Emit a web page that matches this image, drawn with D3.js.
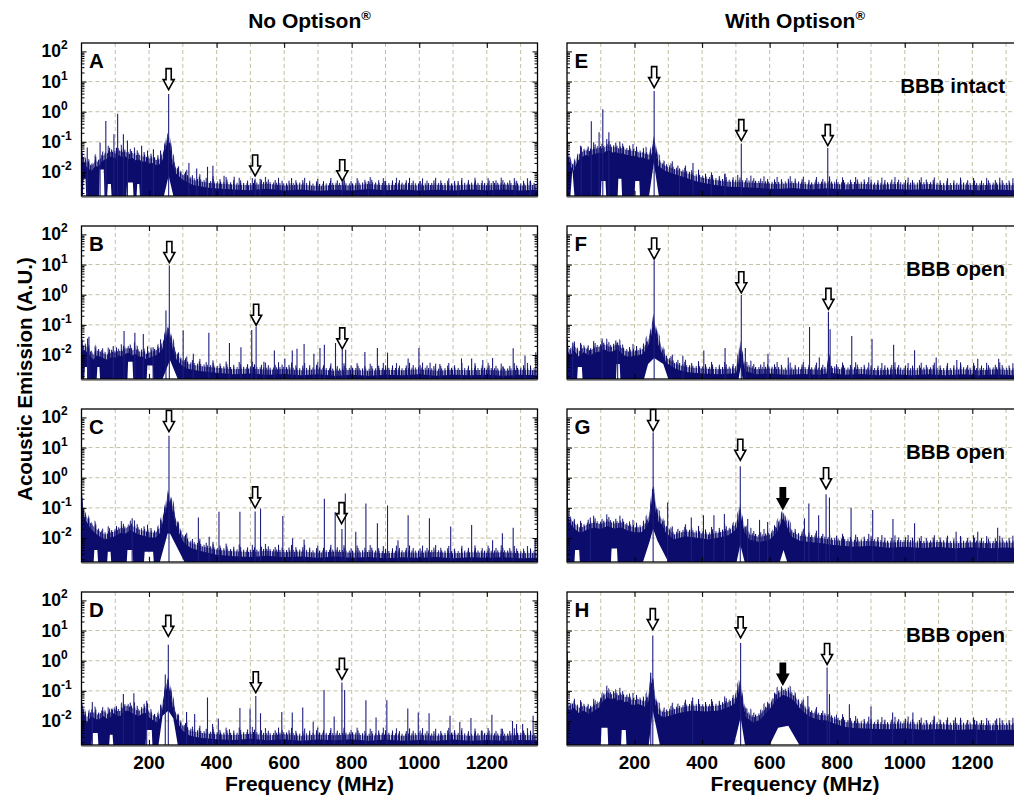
<!DOCTYPE html>
<html>
<head>
<meta charset="utf-8">
<script src="https://cdn.jsdelivr.net/npm/d3@7"></script>
<style>
  body { margin: 0; background: #fff; }
  svg text { font-family: "Liberation Sans", Arial, sans-serif; font-weight: bold; fill: #000; }
</style>
</head>
<body>
<div id="chart"></div>
<script>
'use strict';

// axis limits (A.U. and MHz)
const yMin = 0.0016, yMax = 190;
const fMax = 1350;
const freqTicks = [200, 400, 600, 800, 1000, 1200];
const gridFreqs = [100, 200, 300, 400, 500, 600, 700, 800, 900, 1000, 1100, 1200, 1300];
const decades = [0.01, 0.1, 1, 10, 100];
const gridDecades = [0.01, 0.1, 1, 10];
const decadeLabels = ['-2', '-1', '0', '1', '2'];

const panelLetters = ['A', 'B', 'C', 'D', 'E', 'F', 'G', 'H'];
const panelNotes = ['', '', '', '', 'BBB intact', 'BBB open', 'BBB open', 'BBB open'];
const columnTitles = ['No Optison', 'With Optison'];

// upper edge of the dense noise trace [MHz, A.U.]
const topA = [[0,0.025],[8,0.03],[15,0.02],[30,0.015],[42,0.022],[50,0.02],[60,0.03],[70,0.035],[80,0.04],[90,0.045],[100,0.038],[110,0.05],[120,0.042],[130,0.045],[140,0.036],[150,0.04],[160,0.033],[170,0.035],[180,0.03],[190,0.03],[200,0.026],[210,0.027],[220,0.023],[230,0.024],[240,0.035],[248,0.075],[255,0.16],[262,0.12],[270,0.024],[280,0.012],[300,0.0075],[330,0.005],[380,0.004],[450,0.0036],[500,0.0034],[550,0.0038],[600,0.0033],[650,0.0036],[700,0.0032],[750,0.0035],[800,0.0033],[850,0.0037],[900,0.0034],[950,0.0036],[1000,0.0033],[1050,0.0035],[1100,0.0033],[1150,0.0036],[1200,0.0034],[1250,0.0036],[1300,0.0033],[1350,0.0035]];
const topB = [[0,0.018],[10,0.02],[20,0.015],[35,0.0095],[45,0.013],[55,0.012],[70,0.01],[80,0.0095],[90,0.012],[100,0.011],[110,0.013],[120,0.012],[130,0.015],[140,0.016],[150,0.013],[160,0.015],[170,0.012],[180,0.012],[190,0.01],[200,0.011],[210,0.012],[220,0.013],[230,0.016],[238,0.02],[245,0.034],[252,0.059],[258,0.075],[265,0.034],[272,0.018],[282,0.0095],[296,0.0063],[311,0.0048],[350,0.004],[400,0.0035],[450,0.0031],[500,0.0033],[550,0.003],[600,0.0032],[650,0.0029],[700,0.0031],[750,0.0028],[800,0.003],[850,0.0028],[900,0.003],[950,0.0029],[1000,0.0031],[1050,0.0028],[1100,0.003],[1150,0.0029],[1200,0.003],[1250,0.0028],[1300,0.003],[1350,0.0029]];
const topC = [[0,0.3],[3,0.12],[8,0.07],[14,0.05],[25,0.03],[40,0.02],[55,0.015],[70,0.012],[85,0.014],[100,0.0155],[115,0.02],[130,0.019],[145,0.025],[160,0.02],[175,0.017],[190,0.0155],[205,0.014],[220,0.014],[232,0.02],[242,0.055],[250,0.12],[256,0.32],[262,0.2],[272,0.09],[278,0.043],[288,0.021],[304,0.0093],[324,0.0063],[356,0.0049],[400,0.0038],[450,0.0034],[500,0.0032],[550,0.0035],[600,0.0031],[650,0.0033],[700,0.003],[750,0.0033],[800,0.003],[850,0.0032],[900,0.0029],[950,0.0031],[1000,0.003],[1050,0.0032],[1100,0.0029],[1150,0.0031],[1200,0.003],[1250,0.0031],[1300,0.0029],[1350,0.003]];
const topD = [[0,0.02],[8,0.025],[15,0.012],[30,0.02],[40,0.016],[50,0.015],[65,0.02],[80,0.015],[95,0.025],[105,0.02],[115,0.02],[125,0.028],[135,0.03],[150,0.025],[160,0.022],[170,0.02],[180,0.024],[190,0.025],[200,0.018],[210,0.015],[225,0.012],[235,0.02],[242,0.05],[250,0.14],[257,0.24],[263,0.12],[270,0.04],[277,0.02],[290,0.0094],[300,0.0065],[320,0.0045],[350,0.0038],[400,0.0034],[450,0.0032],[500,0.0035],[550,0.0031],[600,0.0034],[650,0.003],[700,0.0033],[750,0.0031],[800,0.0034],[850,0.003],[900,0.0033],[950,0.003],[1000,0.0032],[1050,0.003],[1100,0.0033],[1150,0.003],[1200,0.0032],[1250,0.003],[1300,0.0032],[1350,0.0031]];
const topE = [[0,0.06],[5,0.04],[12,0.02],[20,0.015],[30,0.03],[40,0.04],[55,0.05],[65,0.045],[75,0.052],[85,0.055],[95,0.06],[105,0.055],[115,0.066],[125,0.07],[135,0.06],[145,0.062],[155,0.055],[165,0.058],[175,0.05],[185,0.05],[195,0.045],[205,0.046],[215,0.04],[225,0.042],[235,0.036],[245,0.035],[252,0.06],[258,0.14],[264,0.05],[270,0.022],[290,0.015],[320,0.0115],[350,0.009],[380,0.0068],[420,0.0054],[470,0.0045],[520,0.0042],[570,0.004],[620,0.0037],[670,0.004],[720,0.0036],[770,0.0039],[820,0.0036],[870,0.0038],[920,0.0035],[970,0.0037],[1020,0.0035],[1070,0.0037],[1120,0.0034],[1170,0.0036],[1220,0.0034],[1270,0.0036],[1320,0.0034],[1350,0.0035]];
const topF = [[0,0.02],[10,0.013],[20,0.02],[35,0.012],[50,0.017],[60,0.014],[70,0.013],[80,0.016],[90,0.017],[100,0.018],[110,0.021],[120,0.018],[130,0.017],[140,0.019],[150,0.021],[160,0.016],[170,0.013],[180,0.012],[190,0.012],[200,0.013],[210,0.013],[225,0.015],[238,0.025],[248,0.05],[255,0.19],[262,0.08],[270,0.03],[280,0.017],[294,0.0075],[323,0.0047],[353,0.0037],[400,0.0033],[450,0.0031],[500,0.0034],[508,0.008],[514,0.02],[520,0.01],[528,0.004],[560,0.0031],[600,0.0033],[650,0.003],[700,0.0032],[750,0.003],[768,0.0033],[774,0.008],[780,0.0035],[820,0.003],[870,0.0032],[920,0.0029],[970,0.0031],[1020,0.0029],[1070,0.0031],[1120,0.0029],[1170,0.0031],[1220,0.0029],[1270,0.0031],[1320,0.0029],[1350,0.003]];
const topG = [[0,0.2],[2,0.09],[8,0.045],[15,0.034],[25,0.026],[40,0.02],[60,0.026],[80,0.03],[100,0.027],[120,0.034],[140,0.028],[160,0.03],[180,0.024],[200,0.021],[220,0.021],[235,0.03],[245,0.06],[252,0.4],[258,0.4],[264,0.08],[272,0.045],[280,0.04],[292,0.021],[316,0.012],[350,0.0155],[380,0.014],[420,0.012],[450,0.014],[480,0.017],[500,0.026],[508,0.05],[513,0.09],[518,0.05],[526,0.021],[540,0.012],[570,0.01],[600,0.012],[620,0.02],[630,0.035],[640,0.065],[650,0.035],[665,0.015],[690,0.011],[720,0.01],[760,0.009],[790,0.008],[850,0.007],[900,0.0075],[950,0.0065],[1000,0.007],[1050,0.0063],[1100,0.0068],[1150,0.0062],[1200,0.0067],[1250,0.0062],[1300,0.0066],[1350,0.0062]];
const topH = [[0,0.04],[10,0.03],[20,0.038],[35,0.025],[50,0.03],[65,0.023],[80,0.03],[95,0.038],[105,0.06],[120,0.085],[130,0.07],[140,0.08],[150,0.065],[160,0.07],[170,0.058],[180,0.06],[190,0.048],[200,0.045],[210,0.05],[220,0.046],[230,0.04],[240,0.06],[248,0.27],[256,0.2],[262,0.05],[270,0.023],[285,0.018],[300,0.02],[330,0.025],[370,0.03],[410,0.028],[450,0.03],[480,0.04],[495,0.05],[505,0.1],[514,0.17],[520,0.06],[530,0.0185],[550,0.012],[570,0.0145],[590,0.025],[605,0.04],[620,0.07],[640,0.1],[660,0.08],[675,0.06],[690,0.035],[705,0.025],[720,0.0185],[745,0.015],[770,0.014],[790,0.0115],[820,0.0088],[850,0.008],[900,0.0075],[950,0.0072],[1000,0.0078],[1050,0.007],[1100,0.0074],[1150,0.0068],[1200,0.0072],[1250,0.0067],[1300,0.007],[1350,0.0068]];

// lower edge where the trace stays above the axis floor [MHz, A.U.]
const lowA = [[4,yMin],[6,0.006],[12,0.006],[14,yMin],[52,yMin],[54,0.012],[66,0.012],[68,yMin],[76,yMin],[78,0.004],[87,0.004],[89,yMin],[133,yMin],[135,0.0045],[152,0.0045],[154,yMin],[163,yMin],[165,0.004],[171,0.004],[173,yMin],[244,yMin],[258,0.0075],[272,yMin]];
const lowB = [[8,yMin],[10,0.004],[16,0.004],[18,yMin],[45,yMin],[47,0.004],[53,0.004],[55,yMin],[136,yMin],[138,0.006],[151,0.006],[153,yMin],[193,yMin],[195,0.0045],[211,0.0045],[213,yMin],[240,yMin],[262,0.0068],[285,yMin]];
const lowC = [[36,yMin],[38,0.004],[47,0.004],[49,yMin],[76,yMin],[78,0.0035],[86,0.0035],[88,yMin],[134,yMin],[136,0.004],[151,0.004],[153,yMin],[185,yMin],[187,0.0035],[212,0.0035],[214,yMin],[232,yMin],[255,0.014],[262,0.014],[305,yMin]];
const lowD = [[30,yMin],[32,0.004],[48,0.004],[50,yMin],[82,yMin],[84,0.0035],[92,0.0035],[94,yMin],[190,yMin],[192,0.005],[208,0.005],[210,yMin],[228,yMin],[240,0.015],[257,0.022],[272,0.012],[285,yMin]];
const lowE = [[10,yMin],[16,0.012],[22,yMin],[100,yMin],[102,0.005],[114,0.005],[116,yMin],[150,yMin],[152,0.006],[161,0.006],[163,yMin],[200,yMin],[202,0.005],[214,0.005],[216,yMin],[243,yMin],[257,0.02],[272,yMin]];
const lowF = [[30,yMin],[32,0.004],[44,0.004],[46,yMin],[145,yMin],[147,0.005],[156,0.005],[158,yMin],[228,yMin],[240,0.005],[258,0.008],[285,0.005],[300,yMin],[508,yMin],[514,0.004],[520,yMin]];
const lowG = [[22,yMin],[24,0.004],[36,0.004],[38,yMin],[130,yMin],[132,0.0045],[148,0.0045],[150,yMin],[225,yMin],[245,0.008],[255,0.02],[268,0.008],[300,yMin],[502,yMin],[513,0.006],[526,yMin],[630,yMin],[641,0.004],[652,yMin]];
const lowH = [[100,yMin],[102,0.006],[120,0.006],[122,yMin],[160,yMin],[162,0.005],[174,0.005],[176,yMin],[242,yMin],[254,0.022],[275,yMin],[494,yMin],[514,0.013],[527,yMin],[600,yMin],[625,0.006],[655,0.007],[688,yMin]];

// narrow spectral lines [MHz, A.U.]
const spikesA = [[17,0.065],[55,0.095],[72,0.49],[96,0.18],[107,0.85],[124,0.18],[136,0.11],[178,0.074],[213,0.057],[258,3.9],[318,0.02],[341,0.013],[373,0.015],[389,0.016],[422,0.0075],[452,0.007],[514,0.006],[529,0.006],[772,0.0048],[849,0.005],[896,0.005],[1002,0.005],[1115,0.005],[1219,0.005],[1283,0.0048],[1328,0.005]];
const spikesB = [[18,0.035],[22,0.04],[94,0.02],[126,0.063],[158,0.055],[183,0.05],[212,0.018],[250,0.3],[260,9.3],[301,0.066],[331,0.011],[377,0.055],[438,0.025],[472,0.018],[504,0.068],[517,0.087],[540,0.006],[571,0.014],[602,0.0077],[624,0.014],[638,0.016],[659,0.023],[688,0.011],[706,0.017],[719,0.022],[752,0.025],[772,0.015],[782,0.015],[839,0.0125],[876,0.017],[906,0.012],[967,0.0077],[999,0.017],[1032,0.0055],[1061,0.005],[1125,0.0077],[1155,0.0077],[1188,0.0068],[1217,0.008],[1249,0.0039],[1278,0.0166],[1313,0.0095],[1345,0.0123]];
const spikesC = [[150,0.045],[259,24.5],[346,0.048],[378,0.011],[407,0.074],[469,0.074],[514,0.075],[530,0.095],[596,0.054],[625,0.0098],[659,0.009],[719,0.2],[751,0.071],[771,0.02],[781,0.3],[812,0.016],[842,0.14],[876,0.031],[906,0.12],[937,0.0085],[967,0.057],[1030,0.045],[1093,0.024],[1155,0.027],[1217,0.0085],[1246,0.0145],[1278,0.022],[1343,0.01]];
const spikesD = [[32,0.043],[124,0.078],[155,0.083],[193,0.047],[248,0.35],[257,3.4],[311,0.02],[335,0.017],[373,0.06],[388,0.008],[405,0.012],[438,0.0053],[469,0.027],[499,0.026],[516,0.068],[530,0.018],[593,0.02],[624,0.019],[655,0.028],[686,0.0095],[718,0.107],[748,0.014],[771,0.19],[779,0.107],[842,0.049],[872,0.013],[904,0.049],[966,0.026],[997,0.019],[1029,0.018],[1091,0.015],[1120,0.0093],[1153,0.0125],[1184,0.0048],[1215,0.016],[1246,0.0055],[1276,0.01],[1288,0.008],[1306,0.008],[1337,0.015]];
const spikesE = [[1,0.3],[42,0.07],[72,0.48],[95,0.21],[106,1.2],[124,0.21],[258,4.9],[333,0.013],[373,0.02],[427,0.008],[468,0.009],[516,0.089],[772,0.063]];
const spikesF = [[17,0.026],[104,0.035],[150,0.026],[258,13.5],[343,0.0095],[405,0.014],[468,0.017],[516,0.97],[528,0.017],[595,0.011],[655,0.0083],[718,0.085],[747,0.0083],[774,0.27],[779,0.072],[843,0.043],[903,0.034],[967,0.022],[1029,0.0145],[1093,0.0083],[1154,0.0068],[1216,0.0075],[1278,0.0075]];
const spikesG = [[1,3.2],[69,0.048],[255,31.7],[298,0.15],[368,0.048],[404,0.057],[435,0.057],[466,0.062],[513,2.4],[535,0.043],[570,0.04],[594,0.034],[703,0.045],[716,0.14],[745,0.057],[767,0.28],[777,0.22],[841,0.1],[905,0.085],[965,0.043],[1029,0.031],[1152,0.016],[1216,0.016],[1275,0.022]];
const spikesH = [[1,2],[248,0.4],[254,6.9],[372,0.06],[514,3.9],[713,0.068],[770,0.59],[777,0.078],[836,0.036],[900,0.03],[964,0.019],[1024,0.019],[1087,0.015],[1150,0.013],[1213,0.01],[1272,0.012]];

// arrow markers [MHz, A.U. at the tip, filled]
const arrowsA = [[258,5.4,0],[514,0.0074,0],[772,0.0051,0]];
const arrowsB = [[260,11.7,0],[517,0.097,0],[772,0.016,0]];
const arrowsC = [[259,34,0],[514,0.1,0],[770,0.03,0]];
const arrowsD = [[257,6.4,0],[516,0.087,0],[771,0.24,0]];
const arrowsE = [[258,6.3,0],[516,0.11,0],[772,0.075,0]];
const arrowsF = [[258,15.2,0],[516,1.16,0],[774,0.325,0]];
const arrowsG = [[255,36.7,0],[513,3.8,0],[639,0.093,1],[767,0.43,0]];
const arrowsH = [[254,10.7,0],[514,5.7,0],[639,0.164,1],[770,0.75,0]];

const tops = [topA, topB, topC, topD, topE, topF, topG, topH];
const lows = [lowA, lowB, lowC, lowD, lowE, lowF, lowG, lowH];
const spikes = [spikesA, spikesB, spikesC, spikesD, spikesE, spikesF, spikesG, spikesH];
const arrows = [arrowsA, arrowsB, arrowsC, arrowsD, arrowsE, arrowsF, arrowsG, arrowsH];

const width = 1014, height = 798;
const colX = [81.5, 567];
const rowY = [43, 226, 409, 592];
const panelW = 456, panelH = 153;
const navy = '#0c0c6c';
const gridColor = '#c4c0a4';
const coreDrop = 4;           // solid core sits this many px under the ragged top
// ragged top layers: [px above core, stripe period]
const fringe = [[5, 1.7], [7, 3.3], [9.5, 6.9], [12, 13.1]];

const svg = d3.select('#chart').append('svg')
    .attr('width', width)
    .attr('height', height);

const defs = svg.append('defs');
defs.append('clipPath').attr('id', 'plotClip')
    .append('rect').attr('width', panelW).attr('height', panelH);
fringe.forEach(function (f, k) {
    defs.append('pattern').attr('id', 'stripe' + k)
        .attr('patternUnits', 'userSpaceOnUse')
        .attr('width', f[1]).attr('height', 20)
        .append('rect').attr('width', 1).attr('height', 20).attr('fill', navy);
});

const x = d3.scaleLinear().domain([0, fMax]).range([0, panelW]);
const y = d3.scaleLog().domain([yMin, yMax]).range([panelH, 0]);
const minorTicks = y.ticks().filter(function (d) { return decades.indexOf(d) < 0; });

const line = d3.line();
const arrowShape = 'M0,0 L-5.5,-10 L-2.6,-10 L-2.6,-21 L2.6,-21 L2.6,-10 L5.5,-10 Z';

panelLetters.forEach(function (letter, i) {
    let col = Math.floor(i / 4);
    let row = i % 4;
    let g = svg.append('g')
        .attr('transform', 'translate(' + colX[col] + ',' + rowY[row] + ')');

    // grid
    g.selectAll('.vgrid').data(gridFreqs).enter().append('line')
        .attr('x1', d => x(d)).attr('x2', d => x(d))
        .attr('y1', 0).attr('y2', panelH)
        .attr('stroke', gridColor).attr('stroke-dasharray', '4,3');
    g.selectAll('.hgrid').data(gridDecades).enter().append('line')
        .attr('x1', 0).attr('x2', panelW)
        .attr('y1', d => y(d)).attr('y2', d => y(d))
        .attr('stroke', gridColor).attr('stroke-dasharray', '4,3');

    let plot = g.append('g').attr('clip-path', 'url(#plotClip)');

    // dense noise band: upper edge forward, lower edge back
    let lower = [[0, yMin]].concat(lows[i], [[fMax, yMin]]).reverse();
    let pts = tops[i].map(d => [x(d[0]), Math.min(panelH, y(d[1]) + coreDrop)])
        .concat(lower.map(d => [x(d[0]), y(d[1])]));
    plot.append('path')
        .attr('d', line(pts) + 'Z')
        .attr('fill', navy);

    // ragged top: striped strips above the solid core (overlapping it by 1.5 px)
    fringe.forEach(function (f, k) {
        let strip = d3.area()
            .x(d => x(d[0]))
            .y0(d => y(d[1]) + coreDrop + 1.5)
            .y1(d => y(d[1]) + coreDrop - f[0]);
        plot.append('path')
            .attr('d', strip(tops[i]))
            .attr('fill', 'url(#stripe' + k + ')');
    });

    plot.selectAll('.spike').data(spikes[i]).enter().append('line')
        .attr('x1', d => x(d[0])).attr('x2', d => x(d[0]))
        .attr('y1', panelH).attr('y2', d => y(d[1]))
        .attr('stroke', '#1e1e80').attr('stroke-width', 1.1);

    g.selectAll('.arrow').data(arrows[i]).enter().append('path')
        .attr('transform', d => 'translate(' + x(d[0]) + ',' + y(d[1]) + ')')
        .attr('d', arrowShape)
        .attr('fill', d => d[2] ? '#000' : '#fff')
        .attr('stroke', '#000')
        .attr('stroke-width', 1.6)
        .attr('stroke-linejoin', 'miter');

    // ticks on all four sides, pointing inward
    let noDomain = sel => sel.select('.domain').remove();
    g.append('g').call(d3.axisLeft(y).tickValues(decades).tickSize(-5).tickFormat('')).call(noDomain);
    g.append('g').call(d3.axisLeft(y).tickValues(minorTicks).tickSize(-3).tickFormat('')).call(noDomain);
    g.append('g').attr('transform', 'translate(' + panelW + ',0)')
        .call(d3.axisRight(y).tickValues(decades).tickSize(-5).tickFormat('')).call(noDomain);
    g.append('g').attr('transform', 'translate(' + panelW + ',0)')
        .call(d3.axisRight(y).tickValues(minorTicks).tickSize(-3).tickFormat('')).call(noDomain);
    g.append('g').attr('transform', 'translate(0,' + panelH + ')')
        .call(d3.axisBottom(x).tickValues(freqTicks).tickSize(-5).tickFormat('')).call(noDomain);
    g.append('g').call(d3.axisTop(x).tickValues(freqTicks).tickSize(-5).tickFormat('')).call(noDomain);

    g.append('rect')
        .attr('width', panelW).attr('height', panelH)
        .attr('fill', 'none').attr('stroke', '#000').attr('stroke-width', 1.3);
    g.append('line')
        .attr('x1', 0).attr('x2', panelW)
        .attr('y1', panelH + 1.5).attr('y2', panelH + 1.5)
        .attr('stroke', '#9a9a9a').attr('stroke-width', 1.2);

    g.append('text')
        .attr('x', 7.5).attr('y', 25)
        .attr('font-size', 20.5)
        .text(letter);

    if (panelNotes[i]) {
        g.append('text')
            .attr('x', 438).attr('y', 50)
            .attr('text-anchor', 'end')
            .attr('font-size', 20.5)
            .text(panelNotes[i]);
    }

    if (col === 0) {
        decades.forEach(function (d, k) {
            let t = g.append('text')
                .attr('x', -40).attr('y', y(d) + 6)
                .attr('font-size', 17.5);
            t.append('tspan').text('10');
            t.append('tspan').attr('font-size', 12).attr('dy', -8).text(decadeLabels[k]);
        });
    }

    if (row === 3) {
        g.selectAll('.xlab').data(freqTicks).enter().append('text')
            .attr('x', d => x(d)).attr('y', panelH + 24)
            .attr('text-anchor', 'middle')
            .attr('font-size', 19)
            .text(d => d);
    }
});

columnTitles.forEach(function (title, col) {
    let cx = colX[col] + panelW / 2;
    let t = svg.append('text')
        .attr('x', cx).attr('y', 28)
        .attr('text-anchor', 'middle')
        .attr('font-size', 21);
    t.append('tspan').text(title);
    t.append('tspan').attr('font-size', 13).attr('dy', -8).text('\u00AE');

    svg.append('text')
        .attr('x', cx).attr('y', 791)
        .attr('text-anchor', 'middle')
        .attr('font-size', 21)
        .text('Frequency (MHz)');
});

svg.append('text')
    .attr('transform', 'translate(32,379) rotate(-90)')
    .attr('text-anchor', 'middle')
    .attr('font-size', 20.5)
    .text('Acoustic Emission (A.U.)');
</script>
</body>
</html>
